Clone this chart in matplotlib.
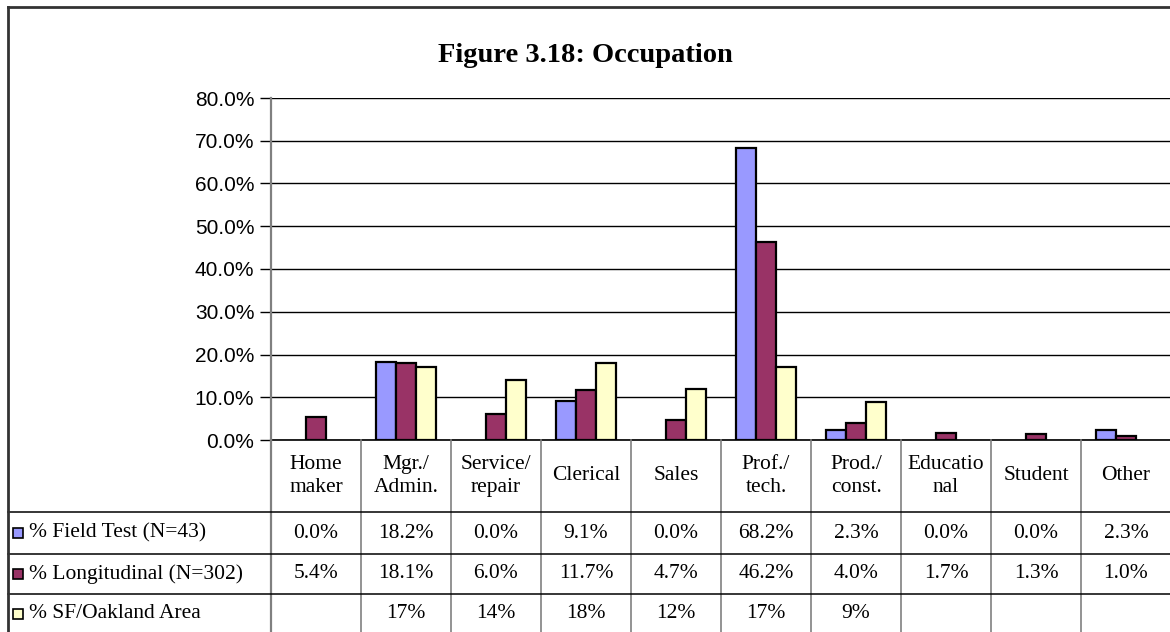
import numpy as np
import matplotlib
matplotlib.use("Agg")
import matplotlib.pyplot as plt
from matplotlib.patches import Rectangle
from matplotlib.lines import Line2D
from matplotlib.transforms import blended_transform_factory

# data
categories = ["Home\nmaker", "Mgr./\nAdmin.", "Service/\nrepair", "Clerical", "Sales",
              "Prof./\ntech.", "Prod./\nconst.", "Educatio\nnal", "Student", "Other"]
series_names = ["% Field Test (N=43)", "% Longitudinal (N=302)", "% SF/Oakland Area"]
field_test = [0.0, 18.2, 0.0, 9.1, 0.0, 68.2, 2.3, 0.0, 0.0, 2.3]
longitudinal = [5.4, 18.1, 6.0, 11.7, 4.7, 46.2, 4.0, 1.7, 1.3, 1.0]
sf_oakland = [None, 17, 14, 18, 12, 17, 9, None, None, None]
colors = ["#9999FF", "#993366", "#FFFFCC"]

W, H = 1170, 632
fig = plt.figure(figsize=(W / 100, H / 100), dpi=100)
fig.patch.set_facecolor("white")

def fy(p):
    # pixel row from top -> figure fraction
    return 1 - p / H

def fx(p):
    return p / W

ax = fig.add_axes([fx(271), fy(440), 900 / W, 342 / H])

x = np.arange(len(categories)) + 0.5
bw = 0.222
all_series = [field_test, longitudinal, sf_oakland]
for k, vals in enumerate(all_series):
    for i, v in enumerate(vals):
        if v is None or v == 0:
            continue
        ax.bar(x[i] + (k - 1) * bw, v / 100, width=bw, color=colors[k],
               edgecolor="black", linewidth=1.6, zorder=3)

ax.set_xlim(0, 10)
ax.set_ylim(0, 0.8)
ax.set_yticks(np.arange(0, 0.81, 0.1))
ax.set_yticklabels([f"{t*100:.1f}%" for t in np.arange(0, 0.81, 0.1)],
                   family="Liberation Sans", fontsize=15)
ax.tick_params(axis="y", direction="out", length=8, width=1, color="black", pad=4)
ax.set_xticks([])
ax.yaxis.grid(True, color="black", linewidth=1)
ax.set_axisbelow(True)
for s in ["top", "right"]:
    ax.spines[s].set_visible(False)
ax.spines["bottom"].set_color("black")
ax.spines["bottom"].set_linewidth(1.2)
ax.spines["left"].set_color("#808080")
ax.spines["left"].set_linewidth(1.6)
ax.spines["left"].set_zorder(4)

fig.text(fx(585), fy(55), "Figure 3.18: Occupation", ha="center", va="center",
         family="Liberation Serif", fontweight="bold", fontsize=20.5)

# data table below the plot
bt = blended_transform_factory(ax.transData, fig.transFigure)
serif = "Liberation Serif"
fsz = 15.5

# vertical gray column lines
for i in range(len(categories) + 1):
    fig.add_artist(Line2D([i, i], [fy(440), fy(H + 5)], transform=bt,
                          color="#808080", linewidth=1.6 if i == 0 else 1.2))
# horizontal black row lines
for p in [512, 554, 594]:
    fig.add_artist(Line2D([fx(8), 1.01], [fy(p), fy(p)], transform=fig.transFigure,
                          color="black", linewidth=1.1))

# outer chart frame
fig.add_artist(Line2D([fx(8), fx(8)], [fy(7), 0], transform=fig.transFigure,
                      color="#333333", linewidth=2))
fig.add_artist(Line2D([fx(8), 1.0], [fy(7), fy(7)], transform=fig.transFigure,
                      color="#333333", linewidth=2))

for i, c in enumerate(categories):
    ax.text(x[i], fy(476), c, transform=bt, ha="center", va="center",
            family=serif, fontsize=fsz, linespacing=1.25, multialignment="center")

row_centers = [533, 574, 614]
for k, vals in enumerate(all_series):
    yc = row_centers[k]
    fig.add_artist(Rectangle((fx(13), fy(yc + 5)), 10 / W, 10 / H,
                             transform=fig.transFigure, facecolor=colors[k],
                             edgecolor="black", linewidth=1.2))
    fig.text(fx(29), fy(yc), series_names[k], ha="left", va="center",
             family=serif, fontsize=fsz)
    for i, v in enumerate(vals):
        if v is None:
            continue
        s = f"{v:.1f}%" if k < 2 else f"{v}%"
        ax.text(x[i], fy(yc), s, transform=bt, ha="center", va="center",
                family=serif, fontsize=fsz)

fig.savefig("out.png", dpi=100)
